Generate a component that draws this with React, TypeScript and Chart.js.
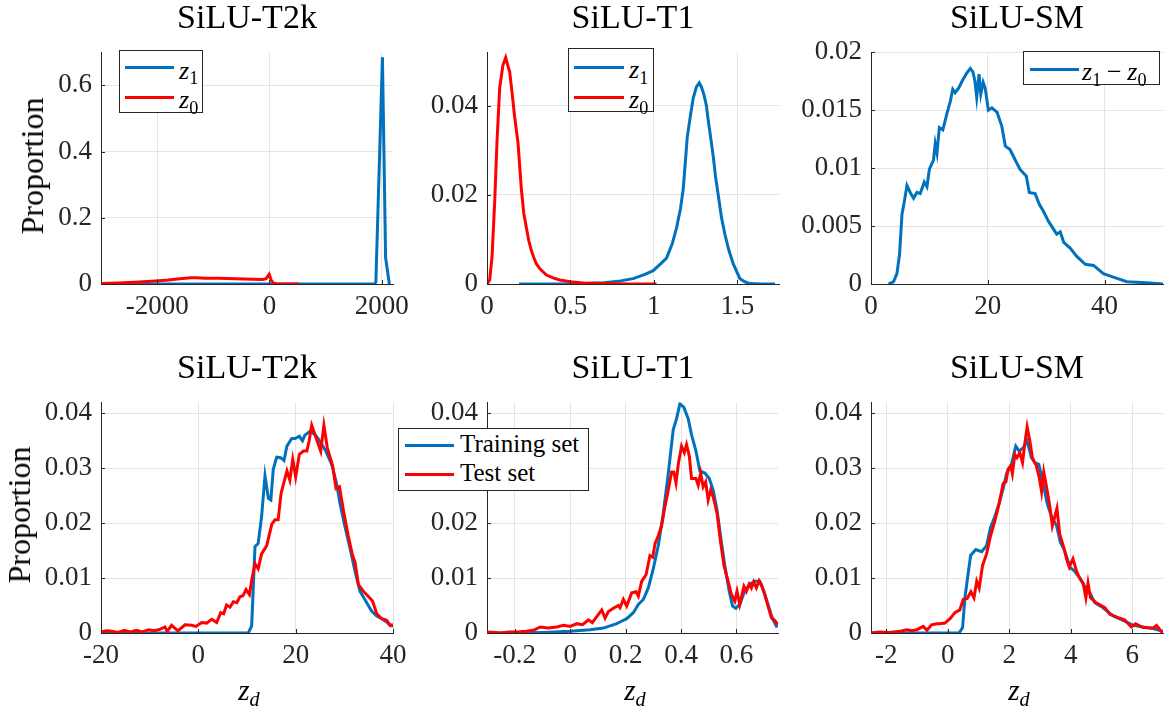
import React, { useEffect, useRef } from "react";
import { Chart, registerables } from "chart.js";

Chart.register(...registerables);

// ---------------- DATA ----------------
// Top row: SiLU-T2k
const t2kTopZ1: [number, number][] = [
  [-3000, 0], [-1000, 0], [0, 0], [1000, 0], [1870, 0], [1895, 0.006], [2012, 0.685], [2068, 0.08], [2135, 0],
];
const t2kTopZ0: [number, number][] = [
  [-3000, 0.0015], [-2700, 0.003], [-2400, 0.005], [-2100, 0.008], [-1800, 0.012], [-1600, 0.016], [-1400, 0.019],
  [-1300, 0.019], [-1150, 0.0175], [-900, 0.017], [-600, 0.0158], [-300, 0.0145], [-120, 0.0135], [-60, 0.016],
  [-5, 0.0295], [30, 0.012], [68, 0.003], [130, 0], [526, 0],
];
// Top row: SiLU-T1
const t1TopZ1: [number, number][] = [
  [0.192, 0], [0.5, 0], [0.7, 0.0003], [0.8, 0.0007], [0.876, 0.0012], [0.95, 0.0022], [0.996, 0.003], [1.04, 0.0045],
  [1.076, 0.0058], [1.11, 0.009], [1.136, 0.0126], [1.16, 0.017], [1.176, 0.0213], [1.19, 0.028], [1.2, 0.0329],
  [1.22, 0.038], [1.236, 0.0417], [1.255, 0.0442], [1.272, 0.0451], [1.285, 0.0442], [1.3, 0.0425], [1.315, 0.04],
  [1.326, 0.0367], [1.34, 0.033], [1.356, 0.0286], [1.37, 0.024], [1.386, 0.0199], [1.405, 0.015], [1.426, 0.0111],
  [1.45, 0.0075], [1.476, 0.0045], [1.5, 0.0025], [1.516, 0.0012], [1.545, 0.0005], [1.576, 0.0001], [1.65, 0], [1.726, 0],
];
const t1TopZ0: [number, number][] = [
  [0, 0], [0.016, 0.0009], [0.03, 0.006], [0.046, 0.0184], [0.06, 0.032], [0.076, 0.044], [0.095, 0.049], [0.112, 0.0508],
  [0.125, 0.049], [0.136, 0.0476], [0.15, 0.043], [0.166, 0.0374], [0.186, 0.0316], [0.206, 0.0213], [0.22, 0.016],
  [0.236, 0.0126], [0.25, 0.0098], [0.266, 0.0075], [0.28, 0.006], [0.296, 0.0045], [0.32, 0.0033], [0.356, 0.002],
  [0.4, 0.0013], [0.436, 0.0009], [0.5, 0.0005], [0.576, 0.0002], [0.7, 0.0001], [0.85, 0], [1.016, 0],
];
// Top row: SiLU-SM
const smTopDiff: [number, number][] = [
  [3.0, 0], [3.87, 0.0002], [4.44, 0.0009], [4.9, 0.0026], [5.3, 0.006], [5.7, 0.0071], [6.16, 0.0085], [6.72, 0.0079],
  [7.29, 0.0074], [7.87, 0.0079], [8.43, 0.0078], [9.12, 0.0088], [9.58, 0.0084], [10.0, 0.0099], [10.7, 0.0107],
  [11.0, 0.0121], [11.3, 0.0113], [11.7, 0.0135], [12.3, 0.0133], [13.0, 0.0147], [13.6, 0.0158], [14.0, 0.0168],
  [14.4, 0.0165], [15.0, 0.0169], [15.7, 0.0176], [16.4, 0.0182], [17.0, 0.0186], [17.45, 0.0183], [17.8, 0.0175],
  [18.1, 0.0161], [18.5, 0.0181], [18.8, 0.0164], [19.2, 0.0174], [19.55, 0.0169], [20.1, 0.015], [20.7, 0.0152],
  [21.6, 0.0148], [22.4, 0.0136], [23.0, 0.0119], [23.8, 0.0116], [24.7, 0.0107], [25.5, 0.0099], [26.6, 0.0093],
  [27.1, 0.0079], [28.1, 0.0078], [28.8, 0.0069], [29.5, 0.0063], [30.4, 0.0054], [31.8, 0.0043], [32.4, 0.0045],
  [33.0, 0.0036], [34.1, 0.0031], [35.2, 0.0024], [36.7, 0.0017], [38.1, 0.0016], [39.8, 0.0009], [41.5, 0.0006],
  [43.8, 0.0002], [47.2, 0.0001], [50, 0],
];
// Bottom row: SiLU-T2k
const t2kTrain: [number, number][] = [
  [-20, 0], [-10, 0], [0, 0], [5, 0], [10.27, 0], [10.96, 0.0013], [11.64, 0.0157], [12.3, 0.0163], [13.0, 0.0212],
  [13.7, 0.0286], [14.4, 0.0245], [14.9, 0.0242], [15.4, 0.0298], [16.1, 0.032], [16.9, 0.0319], [17.6, 0.0314],
  [18.2, 0.034], [19.2, 0.0354], [19.9, 0.0354], [20.75, 0.0358], [21.4, 0.035], [21.9, 0.036], [22.95, 0.0367],
  [24.0, 0.0361], [25.0, 0.0349], [26.2, 0.0331], [27.4, 0.0307], [28.4, 0.0272], [29.1, 0.0236], [30.1, 0.0195],
  [31.2, 0.0153], [32.2, 0.0112], [33.2, 0.0076], [34.6, 0.0055], [35.6, 0.004], [36.65, 0.0031], [37.7, 0.0026],
  [38.7, 0.002], [39.4, 0.0014], [40, 0.0012],
];
const t2kTest: [number, number][] = [
  [-20, 0.0002], [-18.8, 0.0004], [-17.8, 0.0003], [-16.5, 0.0001], [-15.2, 0.0005], [-14, 0.0002], [-12.7, 0.0005],
  [-11.5, 0.0002], [-10.2, 0.0006], [-9, 0.0004], [-7.8, 0.0007], [-6.85, 0.0011], [-6.4, 0.0003], [-5.5, 0.0014],
  [-4.2, 0.0004], [-2.74, 0.0015], [-1.37, 0.0014], [-0.5, 0.0012], [0.69, 0.0019], [1.7, 0.0018], [2.74, 0.0025],
  [3.77, 0.0019], [4.6, 0.0037], [5.2, 0.0035], [5.8, 0.0051], [6.5, 0.0047], [7.2, 0.0057], [7.9, 0.0055],
  [8.56, 0.0066], [9.2, 0.0068], [9.8, 0.0079], [10.5, 0.007], [11.0, 0.0098], [11.64, 0.0126], [12.3, 0.0117],
  [13.0, 0.0144], [14.05, 0.0159], [15.1, 0.0198], [15.75, 0.0206], [16.4, 0.0206], [17.0, 0.0254], [18.2, 0.0295],
  [18.8, 0.0278], [19.4, 0.0316], [20.0, 0.0284], [20.75, 0.0325], [21.6, 0.0331], [22.3, 0.0331], [22.75, 0.0349],
  [23.3, 0.0378], [24.2, 0.0355], [25.15, 0.0331], [25.8, 0.0378], [26.5, 0.0337], [27.6, 0.0304], [28.3, 0.0263],
  [29.0, 0.0266], [29.8, 0.0224], [30.8, 0.0177], [31.7, 0.0141], [32.2, 0.0129], [32.9, 0.0088], [33.9, 0.0076],
  [34.9, 0.0067], [35.8, 0.0058], [36.65, 0.0035], [37.7, 0.0026], [38.7, 0.0023], [39.4, 0.0014], [40, 0.0015],
];
// Bottom row: SiLU-T1
const t1Train: [number, number][] = [
  [-0.3, 0], [-0.2, 0], [-0.1, 0.0001], [0, 0.0003], [0.072, 0.0006], [0.12, 0.0009], [0.168, 0.0017], [0.18, 0.002],
  [0.204, 0.0026], [0.228, 0.0037], [0.246, 0.0052], [0.264, 0.0061], [0.282, 0.0082], [0.3, 0.0117], [0.318, 0.0159],
  [0.336, 0.0218], [0.354, 0.029], [0.372, 0.037], [0.384, 0.039], [0.396, 0.0417], [0.41, 0.0411], [0.426, 0.039],
  [0.438, 0.0361], [0.454, 0.0331], [0.468, 0.0295], [0.486, 0.0291], [0.502, 0.0281], [0.516, 0.026], [0.53, 0.0224],
  [0.546, 0.0165], [0.558, 0.0123], [0.574, 0.0076], [0.586, 0.0049], [0.598, 0.0045], [0.612, 0.0052], [0.63, 0.0076],
  [0.648, 0.0089], [0.666, 0.0094], [0.684, 0.0094], [0.699, 0.0076], [0.714, 0.0052], [0.73, 0.0026], [0.747, 0.001],
];
const t1Test: [number, number][] = [
  [-0.3, 0.0002], [-0.27, 0.0001], [-0.252, 0], [-0.22, 0.0002], [-0.192, 0.0002], [-0.16, 0.0003], [-0.132, 0.0005],
  [-0.108, 0.0011], [-0.08, 0.0009], [-0.048, 0.0011], [-0.024, 0.0014], [0, 0.0012], [0.024, 0.0017], [0.045, 0.0015],
  [0.066, 0.0024], [0.08, 0.0019], [0.096, 0.003], [0.114, 0.0042], [0.126, 0.0027], [0.138, 0.0039], [0.156, 0.0045],
  [0.174, 0.005], [0.18, 0.0046], [0.192, 0.0061], [0.204, 0.0049], [0.222, 0.0073], [0.238, 0.0075], [0.246, 0.0067],
  [0.258, 0.0094], [0.274, 0.0106], [0.288, 0.0141], [0.298, 0.0138], [0.306, 0.0162], [0.318, 0.0177], [0.33, 0.0195],
  [0.342, 0.023], [0.354, 0.026], [0.366, 0.0293], [0.374, 0.0293], [0.382, 0.0273], [0.391, 0.031], [0.402, 0.034],
  [0.412, 0.0328], [0.42, 0.0343], [0.43, 0.0322], [0.438, 0.0281], [0.454, 0.0281], [0.462, 0.0269], [0.471, 0.0291],
  [0.48, 0.0266], [0.489, 0.0275], [0.498, 0.0242], [0.507, 0.026], [0.516, 0.0248], [0.53, 0.0218], [0.543, 0.0165],
  [0.555, 0.0123], [0.57, 0.0094], [0.582, 0.007], [0.594, 0.0058], [0.602, 0.0076], [0.612, 0.0052], [0.627, 0.0085],
  [0.636, 0.0076], [0.646, 0.0089], [0.654, 0.0082], [0.662, 0.0093], [0.672, 0.0082], [0.682, 0.0095], [0.69, 0.0088],
  [0.702, 0.007], [0.714, 0.0049], [0.726, 0.0028], [0.738, 0.0023], [0.75, 0.0015],
];
// Bottom row: SiLU-SM
const smTrain: [number, number][] = [
  [-2.5, 0], [-1, 0], [0, 0], [0.34, 0], [0.39, 0.0002], [0.48, 0.001], [0.555, 0.0064], [0.74, 0.0141], [0.91, 0.0152],
  [1.1, 0.0148], [1.26, 0.0159], [1.39, 0.0192], [1.53, 0.0212], [1.67, 0.0236], [1.8, 0.0263], [1.91, 0.029],
  [2.07, 0.0307], [2.21, 0.034], [2.32, 0.0331], [2.45, 0.0337], [2.58, 0.0349], [2.72, 0.0319], [2.83, 0.031],
  [2.96, 0.0307], [3.1, 0.0272], [3.23, 0.0236], [3.37, 0.0212], [3.54, 0.0195], [3.66, 0.0165], [3.8, 0.015],
  [3.97, 0.012], [4.13, 0.0112], [4.29, 0.01], [4.45, 0.0085], [4.62, 0.0073], [4.78, 0.0055], [5.05, 0.0046],
  [5.38, 0.0031], [5.7, 0.0023], [6.03, 0.0014], [6.35, 0.0011], [6.68, 0.0008], [7, 0.0003],
];
const smTest: [number, number][] = [
  [-2.5, 0], [-2.21, 0.0002], [-1.9, 0.0001], [-1.56, 0.0003], [-1.34, 0.0006], [-1.18, 0.0004], [-1.01, 0.0006],
  [-0.8, 0.0012], [-0.68, 0.0005], [-0.53, 0.0015], [-0.36, 0.0017], [-0.26, 0.0017], [-0.095, 0.0018], [0.07, 0.0026],
  [0.23, 0.0037], [0.39, 0.0042], [0.5, 0.0061], [0.63, 0.0063], [0.75, 0.0075], [0.85, 0.0064], [0.94, 0.0094],
  [1.02, 0.0082], [1.13, 0.0123], [1.26, 0.0144], [1.39, 0.0177], [1.53, 0.0204], [1.67, 0.0236], [1.8, 0.0272],
  [1.89, 0.0275], [1.96, 0.0298], [2.05, 0.0304], [2.1, 0.029], [2.18, 0.0325], [2.25, 0.0319], [2.34, 0.0328],
  [2.43, 0.031], [2.5, 0.0343], [2.58, 0.0375], [2.67, 0.0349], [2.75, 0.0319], [2.88, 0.0304], [2.97, 0.0284],
  [3.05, 0.0257], [3.12, 0.0293], [3.21, 0.0266], [3.32, 0.023], [3.4, 0.0195], [3.48, 0.0212], [3.55, 0.0227],
  [3.64, 0.018], [3.77, 0.0156], [3.86, 0.0135], [3.95, 0.012], [4.07, 0.0135], [4.19, 0.0112], [4.29, 0.01],
  [4.4, 0.0091], [4.49, 0.0064], [4.56, 0.0091], [4.64, 0.0064], [4.83, 0.0055], [5.11, 0.0046], [5.27, 0.0034],
  [5.54, 0.0028], [5.75, 0.0024], [5.97, 0.0011], [6.11, 0.0017], [6.35, 0.001], [6.68, 0.0009], [6.79, 0.0014],
  [6.94, 0.0003], [7, 0.0002],
];

// Tick labels
const t2kTopXTicks = [-2000, 0, 2000];
const t2kTopYTicks = [0, 0.2, 0.4, 0.6];
const t1TopXTicks = [0, 0.5, 1, 1.5];
const t1TopYTicks = [0, 0.02, 0.04];
const smTopXTicks = [0, 20, 40];
const smTopYTicks = [0, 0.005, 0.01, 0.015, 0.02];
const t2kBotXTicks = [-20, 0, 20, 40];
const t1BotXTicks = [-0.2, 0, 0.2, 0.4, 0.6];
const smBotXTicks = [-2, 0, 2, 4, 6];
const botYTicks = [0, 0.01, 0.02, 0.03, 0.04];

const titles = ["SiLU-T2k", "SiLU-T1", "SiLU-SM"];
const topLabels = ["z_1", "z_0"];
const smTopLabels = ["z_1 − z_0"];
const botLabels = ["Training set", "Test set"];
const yAxisLabel = "Proportion";
const xAxisLabel = "z_d";

// ---------------- STYLE ----------------
const BLUE = "#0072BD";
const RED = "#FF0000";
const FONT = "'Liberation Serif', 'Times New Roman', serif";
const AXIS = "#262626";
const GRID = "#e4e4e4";
const AX_W = 95;
const AX_H = 45;
const PAD_T = 20;
const PAD_R = 40;

Chart.defaults.font.family = FONT;

type Series = { label: string; color: string; points: [number, number][] };
type LegendSpec = { left: number; top: number; width: number; height: number; rows: number[]; lineX: number; lineW: number; textX: number; math: boolean };

function MathText({ text, size }: { text: string; size: number }) {
  const parts: React.ReactNode[] = [];
  const re = /([a-z])_(\w)/g;
  let last = 0;
  let m: RegExpExecArray | null;
  let k = 0;
  while ((m = re.exec(text))) {
    if (m.index > last) parts.push(<span key={k++} style={{ padding: "0 0.22em" }}>{text.slice(last, m.index).trim()}</span>);
    parts.push(<span key={k++} style={{ fontStyle: "italic" }}>{m[1]}</span>);
    const isLetter = /[a-z]/.test(m[2]);
    parts.push(
      <span key={k++} style={{ fontSize: size * 0.7, position: "relative", top: size * 0.22, fontStyle: isLetter ? "italic" : "normal" }}>
        {m[2]}
      </span>
    );
    last = re.lastIndex;
  }
  if (last < text.length) parts.push(<span key={k++}>{text.slice(last)}</span>);
  return <>{parts}</>;
}

const innerTicks = {
  id: "innerTicks",
  afterDatasetsDraw(chart: any) {
    const { ctx, chartArea } = chart;
    const xs = chart.scales.x;
    const ys = chart.scales.y;
    ctx.save();
    ctx.strokeStyle = AXIS;
    ctx.lineWidth = 1;
    ctx.beginPath();
    xs.ticks.forEach((t: any) => {
      const p = Math.round(xs.getPixelForValue(t.value)) + 0.5;
      ctx.moveTo(p, chartArea.bottom);
      ctx.lineTo(p, chartArea.bottom - 4);
    });
    ys.ticks.forEach((t: any) => {
      const p = Math.round(ys.getPixelForValue(t.value)) + 0.5;
      ctx.moveTo(chartArea.left, p);
      ctx.lineTo(chartArea.left + 4, p);
    });
    ctx.stroke();
    ctx.restore();
  },
};

type PanelProps = {
  left: number; top: number; width: number; height: number;
  xMin: number; xMax: number; yMax: number;
  xTicks: number[]; yTicks: number[];
  series: Series[];
};

function Panel(p: PanelProps) {
  const ref = useRef<HTMLCanvasElement | null>(null);
  const cw = p.width + AX_W + PAD_R;
  const ch = p.height + PAD_T + AX_H;
  useEffect(() => {
    if (!ref.current) return;
    const n = p.series.length;
    const tickFont = { family: FONT, size: 27 };
    const chart = new Chart(ref.current, {
      type: "line",
      data: {
        datasets: p.series.map((s, i) => ({
          label: s.label,
          data: s.points.map(([x, y]) => ({ x, y })),
          borderColor: s.color,
          backgroundColor: s.color,
          borderWidth: 3,
          pointRadius: 0,
          tension: 0,
          fill: false,
          order: n - 1 - i,
        })),
      },
      options: {
        animation: false,
        responsive: false,
        maintainAspectRatio: false,
        events: [],
        layout: { padding: { left: 0, top: PAD_T, right: PAD_R, bottom: 0 } },
        plugins: { legend: { display: false }, title: { display: false }, tooltip: { enabled: false } },
        scales: {
          x: {
            type: "linear",
            min: p.xMin,
            max: p.xMax,
            afterBuildTicks: (s: any) => { s.ticks = p.xTicks.map((v) => ({ value: v })); },
            afterFit: (s: any) => { s.height = AX_H; },
            ticks: { autoSkip: false, maxRotation: 0, padding: 7, color: AXIS, font: tickFont, callback: (v: any) => String(v) },
            grid: { color: GRID, drawTicks: false, lineWidth: 1 },
            border: { color: AXIS, width: 1 },
          },
          y: {
            type: "linear",
            min: 0,
            max: p.yMax,
            afterBuildTicks: (s: any) => { s.ticks = p.yTicks.map((v) => ({ value: v })); },
            afterFit: (s: any) => { s.width = AX_W; },
            ticks: { autoSkip: false, padding: 9, color: AXIS, font: tickFont, callback: (v: any) => String(v) },
            grid: { color: GRID, drawTicks: false, lineWidth: 1 },
            border: { color: AXIS, width: 1 },
          },
        },
      },
      plugins: [innerTicks],
    } as any);
    return () => chart.destroy();
  }, []);
  return (
    <canvas
      ref={ref}
      width={cw}
      height={ch}
      style={{ position: "absolute", left: p.left - AX_W, top: p.top - PAD_T, width: cw, height: ch }}
    />
  );
}

function Legend({ spec, series, size }: { spec: LegendSpec; series: Series[]; size: number }) {
  return (
    <div style={{ position: "absolute", left: spec.left, top: spec.top, width: spec.width, height: spec.height, border: `1px solid ${AXIS}`, background: "#fff", boxSizing: "border-box", zIndex: 5 }}>
      {series.map((s, i) => (
        <React.Fragment key={i}>
          <div style={{ position: "absolute", left: spec.lineX, top: spec.rows[i] - 1.5, width: spec.lineW, height: 3, background: s.color }} />
          <div style={{ position: "absolute", left: spec.textX, top: spec.rows[i] + (spec.math ? 3 : -2), transform: "translateY(-50%)", fontFamily: FONT, fontSize: size, lineHeight: 1, whiteSpace: "nowrap", color: "#000" }}>
            {spec.math ? <MathText text={s.label} size={size} /> : s.label}
          </div>
        </React.Fragment>
      ))}
    </div>
  );
}

const COLS = [101, 487, 871];
const TOP_T = 47, TOP_H = 237, BOT_T = 397, BOT_H = 236;

export default function App() {
  const topT2k: Series[] = [
    { label: topLabels[0], color: BLUE, points: t2kTopZ1 },
    { label: topLabels[1], color: RED, points: t2kTopZ0 },
  ];
  const topT1: Series[] = [
    { label: topLabels[0], color: BLUE, points: t1TopZ1 },
    { label: topLabels[1], color: RED, points: t1TopZ0 },
  ];
  const topSM: Series[] = [{ label: smTopLabels[0], color: BLUE, points: smTopDiff }];
  const botT2k: Series[] = [
    { label: botLabels[0], color: BLUE, points: t2kTrain },
    { label: botLabels[1], color: RED, points: t2kTest },
  ];
  const botT1: Series[] = [
    { label: botLabels[0], color: BLUE, points: t1Train },
    { label: botLabels[1], color: RED, points: t1Test },
  ];
  const botSM: Series[] = [
    { label: botLabels[0], color: BLUE, points: smTrain },
    { label: botLabels[1], color: RED, points: smTest },
  ];

  const titleStyle = (cx: number, baseline: number): React.CSSProperties => ({
    position: "absolute", left: cx, top: baseline - 28.5, transform: "translateX(-50%)",
    fontFamily: FONT, fontSize: 34, lineHeight: 1, whiteSpace: "nowrap", color: "#000", zIndex: 4,
  });
  const ylabStyle = (cx: number, cy: number): React.CSSProperties => ({
    position: "absolute", left: cx, top: cy, transform: "translate(-50%, -50%) rotate(-90deg)",
    fontFamily: FONT, fontSize: 32, lineHeight: 1, whiteSpace: "nowrap", color: "#000", zIndex: 4,
  });
  const xlabStyle = (cx: number): React.CSSProperties => ({
    position: "absolute", left: cx, top: 701 - 25, transform: "translateX(-50%)",
    fontFamily: FONT, fontSize: 29, lineHeight: 1, whiteSpace: "nowrap", color: "#000", zIndex: 4,
  });

  return (
    <div style={{ position: "absolute", left: 0, top: 0, width: 1167, height: 709, overflow: "hidden", background: "#fff", fontFamily: FONT }}>
      <Panel left={COLS[0]} top={TOP_T} width={292} height={TOP_H} xMin={-3000} xMax={2200} yMax={0.7} xTicks={t2kTopXTicks} yTicks={t2kTopYTicks} series={topT2k} />
      <Panel left={COLS[1]} top={TOP_T} width={292} height={TOP_H} xMin={0} xMax={1.75} yMax={0.052} xTicks={t1TopXTicks} yTicks={t1TopYTicks} series={topT1} />
      <Panel left={COLS[2]} top={TOP_T} width={292} height={TOP_H} xMin={0} xMax={50} yMax={0.02} xTicks={smTopXTicks} yTicks={smTopYTicks} series={topSM} />
      <Panel left={COLS[0]} top={BOT_T} width={292} height={BOT_H} xMin={-20} xMax={40} yMax={0.042} xTicks={t2kBotXTicks} yTicks={botYTicks} series={botT2k} />
      <Panel left={COLS[1]} top={BOT_T} width={291} height={BOT_H} xMin={-0.3} xMax={0.75} yMax={0.042} xTicks={t1BotXTicks} yTicks={botYTicks} series={botT1} />
      <Panel left={COLS[2]} top={BOT_T} width={292} height={BOT_H} xMin={-2.5} xMax={7} yMax={0.042} xTicks={smBotXTicks} yTicks={botYTicks} series={botSM} />

      {COLS.map((l, i) => (
        <div key={"tt" + i} style={titleStyle(l + 146, 28.5)}>{titles[i]}</div>
      ))}
      {COLS.map((l, i) => (
        <div key={"bt" + i} style={titleStyle(l + 146, 378)}>{titles[i]}</div>
      ))}
      <div style={ylabStyle(32, TOP_T + TOP_H / 2)}>{yAxisLabel}</div>
      <div style={ylabStyle(19, BOT_T + BOT_H / 2)}>{yAxisLabel}</div>
      {COLS.map((l, i) => (
        <div key={"xl" + i} style={xlabStyle(l + 148)}><MathText text={xAxisLabel} size={29} /></div>
      ))}

      <Legend spec={{ left: 119, top: 50, width: 84, height: 63, rows: [16.7, 46], lineX: 5, lineW: 49, textX: 59, math: true }} series={topT2k} size={26} />
      <Legend spec={{ left: 568, top: 48, width: 86, height: 64, rows: [18, 48], lineX: 5, lineW: 50, textX: 60, math: true }} series={topT1} size={26} />
      <Legend spec={{ left: 1023, top: 51, width: 137, height: 34, rows: [17], lineX: 6, lineW: 49, textX: 58, math: true }} series={topSM} size={26} />
      <Legend spec={{ left: 398, top: 428, width: 191, height: 63, rows: [16.3, 45.3], lineX: 6, lineW: 49, textX: 61, math: false }} series={botT1} size={25} />
    </div>
  );
}
